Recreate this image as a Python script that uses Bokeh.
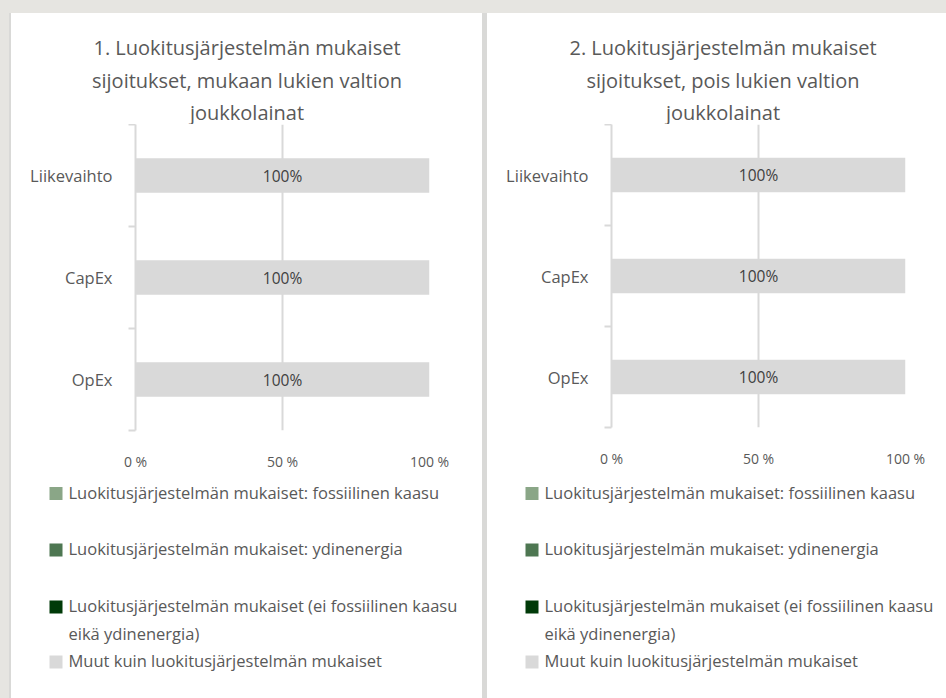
from bokeh.plotting import figure
from bokeh.layouts import column, row
from bokeh.models import (Range1d, ColumnDataSource, LinearAxis, FixedTicker, Spacer)
from bokeh.core.properties import value
from bokeh.embed import file_html
from bokeh.resources import INLINE

# ---------------- data ----------------
categories = ["Liikevaihto", "CapEx", "OpEx"]

series_keys = ["fossil", "nuclear", "aligned", "other"]
series_colors = ["#8aa687", "#4e7752", "#003a08", "#d9d9d9"]
legend_labels = [
    ["Luokitusjärjestelmän mukaiset: fossiilinen kaasu"],
    ["Luokitusjärjestelmän mukaiset: ydinenergia"],
    ["Luokitusjärjestelmän mukaiset (ei fossiilinen kaasu", "eikä ydinenergia)"],
    ["Muut kuin luokitusjärjestelmän mukaiset"],
]

# chart 1: including sovereign bonds (percent)
c1_fossil = [0, 0, 0]
c1_nuclear = [0, 0, 0]
c1_aligned = [0, 0, 0]
c1_other = [100, 100, 100]

# chart 2: excluding sovereign bonds (percent)
c2_fossil = [0, 0, 0]
c2_nuclear = [0, 0, 0]
c2_aligned = [0, 0, 0]
c2_other = [100, 100, 100]

x_ticks = [0, 50, 100]
x_tick_labels = ["0 %", "50 %", "100 %"]

title1 = ["1. Luokitusjärjestelmän mukaiset",
          "sijoitukset, mukaan lukien valtion",
          "joukkolainat"]
title2 = ["2. Luokitusjärjestelmän mukaiset",
          "sijoitukset, pois lukien valtion",
          "joukkolainat"]

# ---------------- style ----------------
FONT = "Open Sans"
TXT = "#595959"
LBL = "#404040"
GRID = "#d9d9d9"
BG = "#e6e5e1"
EDGE = "#d9d9d7"

PANEL_W = 471
TITLE_H = 111
CHART_H = 351
LEGEND_H = 223


def blank(w, h):
    f = figure(width=w, height=h, x_range=Range1d(0, w), y_range=Range1d(h, 0),
               output_backend="svg", toolbar_location=None, min_border=0,
               x_axis_location=None, y_axis_location=None, frame_align=False)
    f.grid.grid_line_color = None
    f.outline_line_color = None
    f.background_fill_color = "white"
    f.border_fill_color = "white"
    return f


def title_fig(w, lines):
    f = blank(w, TITLE_H)
    ys = [34, 67, 99]
    f.text(x=[PANEL_W / 2] * len(lines), y=ys[:len(lines)], text=lines,
           text_align="center", text_baseline="middle",
           text_font=value(FONT), text_font_size="20px", text_color=TXT)
    return f


def chart_fig(w, series, border_bottom):
    n = len(categories)
    # category i (top to bottom) sits in band [n-i-1, n-i]
    ypos = [n - i - 0.5 for i in range(n)]
    data = dict(y=ypos)
    for k, v in zip(series_keys, series):
        data[k] = v
    src = ColumnDataSource(data)

    p = figure(width=w, height=CHART_H,
               y_range=Range1d(0, n), x_range=Range1d(0, 100),
               output_backend="svg", toolbar_location=None,
               y_axis_location=None, frame_align=False,
               min_border_left=124, min_border_right=w - 124 - 294,
               min_border_top=0, min_border_bottom=border_bottom)
    p.outline_line_color = None
    p.background_fill_color = "white"
    p.border_fill_color = "white"

    p.hbar_stack(series_keys, y="y", height=0.34, fill_color=series_colors,
                 line_color=None, source=src)

    # data labels
    lx, ly, lt = [], [], []
    for i in range(n):
        start = 0
        for s in series:
            v = s[i]
            if v > 0:
                lx.append(start + v / 2)
                ly.append(ypos[i])
                lt.append(f"{v:.0f}%")
            start += v
    p.text(x=lx, y=ly, text=lt, text_align="center", text_baseline="middle",
           text_font=value(FONT), text_font_size="15.5px", text_color=LBL)

    # x axis
    xa = p.xaxis[0]
    xa.ticker = FixedTicker(ticks=x_ticks)
    xa.major_label_overrides = {t: l for t, l in zip(x_ticks, x_tick_labels)}
    xa.axis_line_color = None
    xa.major_tick_line_color = None
    xa.minor_tick_line_color = None
    xa.major_label_standoff = 15
    xa.major_label_text_font = FONT
    xa.major_label_text_font_size = "14px"
    xa.major_label_text_color = TXT
    p.xgrid.grid_line_color = GRID
    p.xgrid.grid_line_width = 2
    p.ygrid.grid_line_color = None

    # category boundary ticks + axis line
    bax = LinearAxis(ticker=FixedTicker(ticks=list(range(n + 1))),
                     major_tick_in=0, major_tick_out=7,
                     minor_tick_line_color=None,
                     axis_line_color=GRID, axis_line_width=2,
                     major_tick_line_color=GRID, major_tick_line_width=2,
                     major_label_text_font_size="0px",
                     major_label_text_color=None,
                     major_label_standoff=0)
    p.add_layout(bax, "left")
    # category labels
    cax = LinearAxis(ticker=FixedTicker(ticks=ypos),
                     major_label_overrides={y: c for y, c in zip(ypos, categories)},
                     axis_line_color=None, major_tick_line_color=None,
                     minor_tick_line_color=None,
                     major_label_standoff=10,
                     major_label_text_font=FONT,
                     major_label_text_font_size="16.5px",
                     major_label_text_color=TXT)
    p.add_layout(cax, "left")
    return p


def legend_fig(w):
    f = blank(w, LEGEND_H)
    item_y = [18, 74.5, 131.5, 186.5]
    f.scatter(x=[44.5] * len(series_colors), y=item_y, marker="square", size=13,
              fill_color=series_colors, line_color=None)
    tx, ty, tt = [], [], []
    for yy, lines in zip(item_y, legend_labels):
        for j, ln in enumerate(lines):
            tx.append(57)
            ty.append(yy - 1.5 + j * 28)
            tt.append(ln)
    f.text(x=tx, y=ty, text=tt, text_align="left", text_baseline="middle",
           text_font=value(FONT), text_font_size="16.5px", text_color=TXT)
    return f


w1 = PANEL_W
w2 = 459
panel_h = TITLE_H + CHART_H + LEGEND_H
panel1 = column(title_fig(w1, title1),
                chart_fig(w1, [c1_fossil, c1_nuclear, c1_aligned, c1_other], 45),
                legend_fig(w1), styles={"background-color": "white"})
panel2 = column(title_fig(w2, title2),
                chart_fig(w2, [c2_fossil, c2_nuclear, c2_aligned, c2_other], 48),
                legend_fig(w2), styles={"background-color": "white"})

body = row(Spacer(width=9, height=panel_h),
           Spacer(width=2, height=panel_h, styles={"background-color": EDGE}),
           panel1,
           Spacer(width=5, height=panel_h, styles={"background-color": EDGE}),
           panel2)
page = column(Spacer(width=946, height=13), body, styles={"background-color": BG})

open("out.html", "w").write(file_html(page, INLINE))
